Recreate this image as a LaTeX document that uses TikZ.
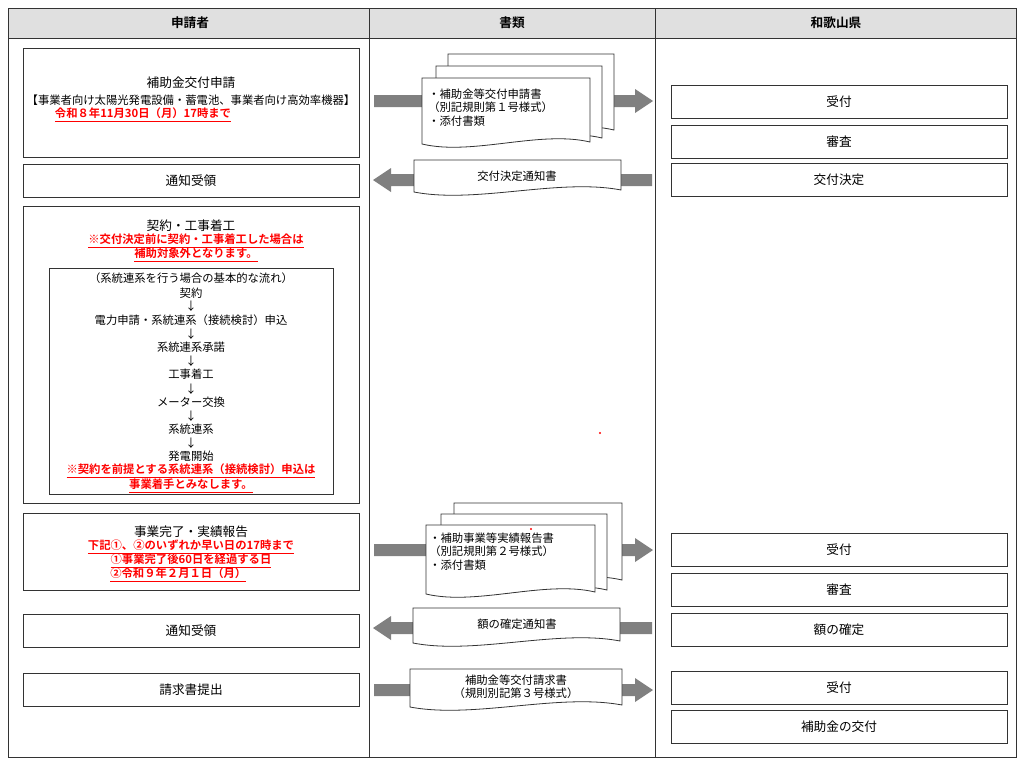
\documentclass[tikz,border=0pt]{standalone}
\usepackage{fontspec}
\setmainfont{Noto Sans CJK JP}
\newfontfamily\jpb{Noto Sans CJK JP Bold}
\begin{document}
\begin{tikzpicture}[x=0.75pt,y=-0.75pt,
  box/.style={draw=black!80,line width=0.6pt,fill=white},
  t/.style={font=\fontsize{9.5}{11}\selectfont,inner sep=0pt},
  ts/.style={font=\fontsize{8.5}{10}\selectfont,inner sep=0pt},
  redt/.style={font=\fontsize{8.5}{10}\selectfont\jpb,text=red,inner sep=0pt},
  hd/.style={font=\fontsize{9.5}{11}\selectfont\jpb,inner sep=0pt},
  arr/.style={fill=black!50,draw=none},
  docsty/.style={draw=black!80,line width=0.6pt,fill=white}]
\newcommand\rarr[3]{\fill[arr] (#1,#3-6) -- (#2-18,#3-6) -- (#2-18,#3-12) -- (#2,#3) -- (#2-18,#3+12) -- (#2-18,#3+6) -- (#1,#3+6) -- cycle;}
\newcommand\larr[3]{\fill[arr] (#2,#3-6) -- (#1+18,#3-6) -- (#1+18,#3-12) -- (#1,#3) -- (#1+18,#3+12) -- (#1+18,#3+6) -- (#2,#3+6) -- cycle;}
\newcommand\docu[4]{\draw[docsty] (#1,#2) -- (#3,#2) -- (#3,#4) .. controls ({#1+0.7*(#3-#1)},#4-12) and ({#1+0.3*(#3-#1)},#4+14) .. (#1,#4+2) -- cycle;}
\useasboundingbox (0,0) rectangle (1024,761);
\fill[white] (0,0) rectangle (1024,761);
% frame
\fill[black!12] (8,8) rectangle (1016,38);
\draw[black!80,line width=0.6pt] (8,8) rectangle (1016,757);
\draw[black!80,line width=0.6pt] (8,38) -- (1016,38);
\draw[black!80,line width=0.6pt] (369,8) -- (369,757) (655,8) -- (655,757);
\node[hd] (h1) at (190,23) {申請者};
\node[hd] (h2) at (512,23) {書類};
\node[hd] (h3) at (836,23) {和歌山県};
% left boxes
\draw[box] (23,48) rectangle (359,157);
\node[t] (a1) at (191,83) {補助金交付申請};
\node[ts] (a2) at (191,100) {【事業者向け太陽光発電設備・蓄電池、事業者向け高効率機器】};
\node[redt] (a3) at (143,115) {\underline{令和８年11月30日（月）17時まで}};
\draw[box] (23,164) rectangle (359,197);
\node[t] (b1) at (191,181) {通知受領};
\draw[box] (23,206) rectangle (359,503);
\node[t] (c1) at (191,226) {契約・工事着工};
\node[redt] (c2) at (196,241) {\underline{※交付決定前に契約・工事着工した場合は}};
\node[redt] (c3) at (196,255) {\underline{補助対象外となります。}};
\draw[box] (49,268) rectangle (333,494);
\node[ts] (d0) at (191,278) {（系統連系を行う場合の基本的な流れ）};
\node[ts] (d1) at (191,293) {契約};
\node[ts] at (191,306) {↓};
\node[ts] (d2) at (191,320) {電力申請・系統連系（接続検討）申込};
\node[ts] at (191,334) {↓};
\node[ts] (d3) at (191,347) {系統連系承諾};
\node[ts] at (191,361) {↓};
\node[ts] (d4) at (191,374) {工事着工};
\node[ts] at (191,389) {↓};
\node[ts] (d5) at (191,402) {メーター交換};
\node[ts] at (191,416) {↓};
\node[ts] (d6) at (191,429) {系統連系};
\node[ts] at (191,443) {↓};
\node[ts] (d7) at (191,456) {発電開始};
\node[redt] (d8) at (191,471) {\underline{※契約を前提とする系統連系（接続検討）申込は}};
\node[redt] (d9) at (191,486) {\underline{事業着手とみなします。}};
\draw[box] (23,513) rectangle (359,590);
\node[t] (e1) at (191,532) {事業完了・実績報告};
\node[redt] (e2) at (191,547) {\underline{下記①、②のいずれか早い日の17時まで}};
\node[redt] (e3) at (191,561) {\underline{①事業完了後60日を経過する日}};
\node[redt,anchor=west] (e4) at (110,575) {\underline{②令和９年２月１日（月）}};
\draw[box] (23,614) rectangle (359,647);
\node[t] (f1) at (191,631) {通知受領};
\draw[box] (23,673) rectangle (359,706);
\node[t] (g1) at (191,690) {請求書提出};
% right boxes
\foreach \ya/\yb/\txt/\nm in {85/118/受付/r1,125/158/審査/r2,163/196/交付決定/r3,533/566/受付/r4,573/606/審査/r5,613/646/額の確定/r6,671/704/受付/r7,710/743/補助金の交付/r8}{
  \draw[box] (671,\ya) rectangle (1007,\yb);
  \node[t] (\nm) at (839,{(\ya+\yb)/2}) {\txt};
}
% middle arrows and documents
\rarr{374}{653}{101}
\docu{448}{54}{614}{130}
\docu{436}{66}{602}{138}
\docu{422}{78}{590}{142}
\node[ts,anchor=west] (m1) at (428,94) {・補助金等交付申請書};
\node[ts,anchor=west] (m2) at (428,107) {（別記規則第１号様式）};
\node[ts,anchor=west] (m3) at (428,121) {・添付書類};
\larr{373}{652}{180}
\docu{414}{160}{621}{190}
\node[ts] (m4) at (517,176) {交付決定通知書};
\rarr{374}{653}{550}
\docu{454}{503}{622}{580}
\docu{441}{514}{607}{590}
\docu{426}{525}{595}{592}
\node[ts,anchor=west] (n1) at (429,538) {・補助事業等実績報告書};
\node[ts,anchor=west] (n2) at (429,551) {（別記規則第２号様式）};
\node[ts,anchor=west] (n3) at (429,565) {・添付書類};
\larr{373}{652}{628}
\docu{413}{608}{620}{641}
\node[ts] (m5) at (517,624) {額の確定通知書};
\rarr{374}{653}{690}
\docu{410}{669}{622}{705}
\node[ts] (m6) at (516,680) {補助金等交付請求書};
\node[ts] (m7) at (516,693) {（規則別記第３号様式）};
\fill[red] (600,433) circle (1.2);
\fill[red] (531,529) circle (1.2);
\end{tikzpicture}
\end{document}
